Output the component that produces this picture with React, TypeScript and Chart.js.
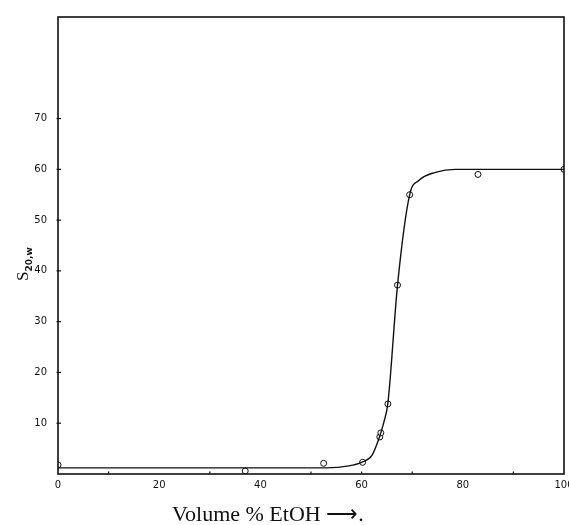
import React, { useEffect, useRef } from "react";
import { Chart, registerables } from "chart.js";

Chart.register(...registerables);

// Measured points (open circles)
const pointX = [0, 37, 52.5, 60.2, 63.6, 63.8, 65.2, 67.1, 69.5, 83, 100];
const pointY = [1.8, 0.6, 2.1, 2.3, 7.3, 8.1, 13.8, 37.2, 55, 59, 60];

// Smooth drawn curve
const curveX = [0, 20, 40, 53, 57.5, 60, 62, 63.4, 64.4, 65.2, 67.1, 69.5, 71.3, 74.6, 78.5, 85, 100];
const curveY = [1.2, 1.2, 1.2, 1.2, 1.6, 2.3, 3.6, 6.9, 10.2, 14, 37.2, 55, 57.8, 59.4, 60, 60, 60];

// Axis ticks
const xTicks = [0, 20, 40, 60, 80, 100];
const yTicks = [10, 20, 30, 40, 50, 60, 70];

const xTitle = "Volume % EtOH \u27F6.";
const yTitleMain = "S";
const yTitleSub = "20,w";

const framePlugin = {
  id: "frame",
  afterDraw(chart: any) {
    const { ctx, chartArea } = chart;
    const { left, right, top, bottom } = chartArea;
    ctx.save();
    ctx.strokeStyle = "#111";
    ctx.lineWidth = 1.6;
    ctx.strokeRect(left, top, right - left, bottom - top);
    // tick marks
    ctx.lineWidth = 1.2;
    const ys = chart.scales.y;
    yTicks.forEach((v) => {
      const py = ys.getPixelForValue(v);
      ctx.beginPath();
      ctx.moveTo(left - 1.5, py);
      ctx.lineTo(left + 3, py);
      ctx.stroke();
    });
    const xs = chart.scales.x;
    [10, 30, 50, 60, 70, 90].forEach((v) => {
      const px = xs.getPixelForValue(v);
      ctx.beginPath();
      ctx.moveTo(px, bottom);
      ctx.lineTo(px, bottom - 2.5);
      ctx.stroke();
    });
    // titles
    ctx.fillStyle = "#111";
    ctx.font = "22px 'Liberation Serif'";
    ctx.textBaseline = "alphabetic";
    ctx.textAlign = "left";
    ctx.fillText(xTitle, 172, 521);
    ctx.save();
    ctx.translate(28, 281);
    ctx.rotate(-Math.PI / 2);
    ctx.font = "17px 'Liberation Serif'";
    ctx.fillText(yTitleMain, 0, 0);
    const w = ctx.measureText(yTitleMain).width;
    ctx.font = "bold 9px 'DejaVu Sans'";
    ctx.fillText(yTitleSub, w, 4);
    ctx.restore();
    ctx.restore();
  },
};

export default function App() {
  const ref = useRef<HTMLCanvasElement>(null);
  useEffect(() => {
    if (!ref.current) return;
    const chart = new Chart(ref.current, {
      type: "scatter",
      data: {
        datasets: [
          {
            type: "line",
            data: curveX.map((x, i) => ({ x, y: curveY[i] })),
            borderColor: "#111",
            borderWidth: 1.4,
            pointRadius: 0,
            cubicInterpolationMode: "monotone",
            fill: false,
          } as any,
          {
            data: pointX.map((x, i) => ({ x, y: pointY[i] })),
            pointRadius: 3,
            pointBackgroundColor: "#fff",
            pointBorderColor: "#111",
            pointBorderWidth: 1,
          },
        ],
      },
      options: {
        responsive: false,
        animation: false,
        layout: { padding: { top: 13, right: 3, left: 0, bottom: 0 } },
        plugins: { legend: { display: false }, tooltip: { enabled: false } },
        scales: {
          x: {
            type: "linear",
            min: 0,
            max: 100,
            afterBuildTicks: (s: any) => {
              s.ticks = xTicks.map((v) => ({ value: v }));
            },
            afterFit: (s: any) => {
              s.height = 51;
              s.paddingRight = 0;
              s.paddingLeft = 0;
            },
            grid: { display: false, drawTicks: false },
            border: { display: false },
            ticks: {
              padding: 5,
              color: "#111",
              font: { family: "DejaVu Sans", size: 10 },
              maxRotation: 0,
            },
          },
          y: {
            type: "linear",
            min: 0,
            max: 90,
            afterBuildTicks: (s: any) => {
              s.ticks = yTicks.map((v) => ({ value: v }));
            },
            afterFit: (s: any) => {
              s.width = 58;
            },
            grid: { display: false, drawTicks: false },
            border: { display: false },
            ticks: {
              padding: 11,
              color: "#111",
              font: { family: "DejaVu Sans", size: 10 },
            },
          },
        },
      },
      plugins: [framePlugin],
    });
    return () => chart.destroy();
  }, []);
  return (
    <div style={{ position: "fixed", left: 0, top: 0, width: 569, height: 525, background: "#fff" }}>
      <canvas ref={ref} width={569} height={525} />
    </div>
  );
}
